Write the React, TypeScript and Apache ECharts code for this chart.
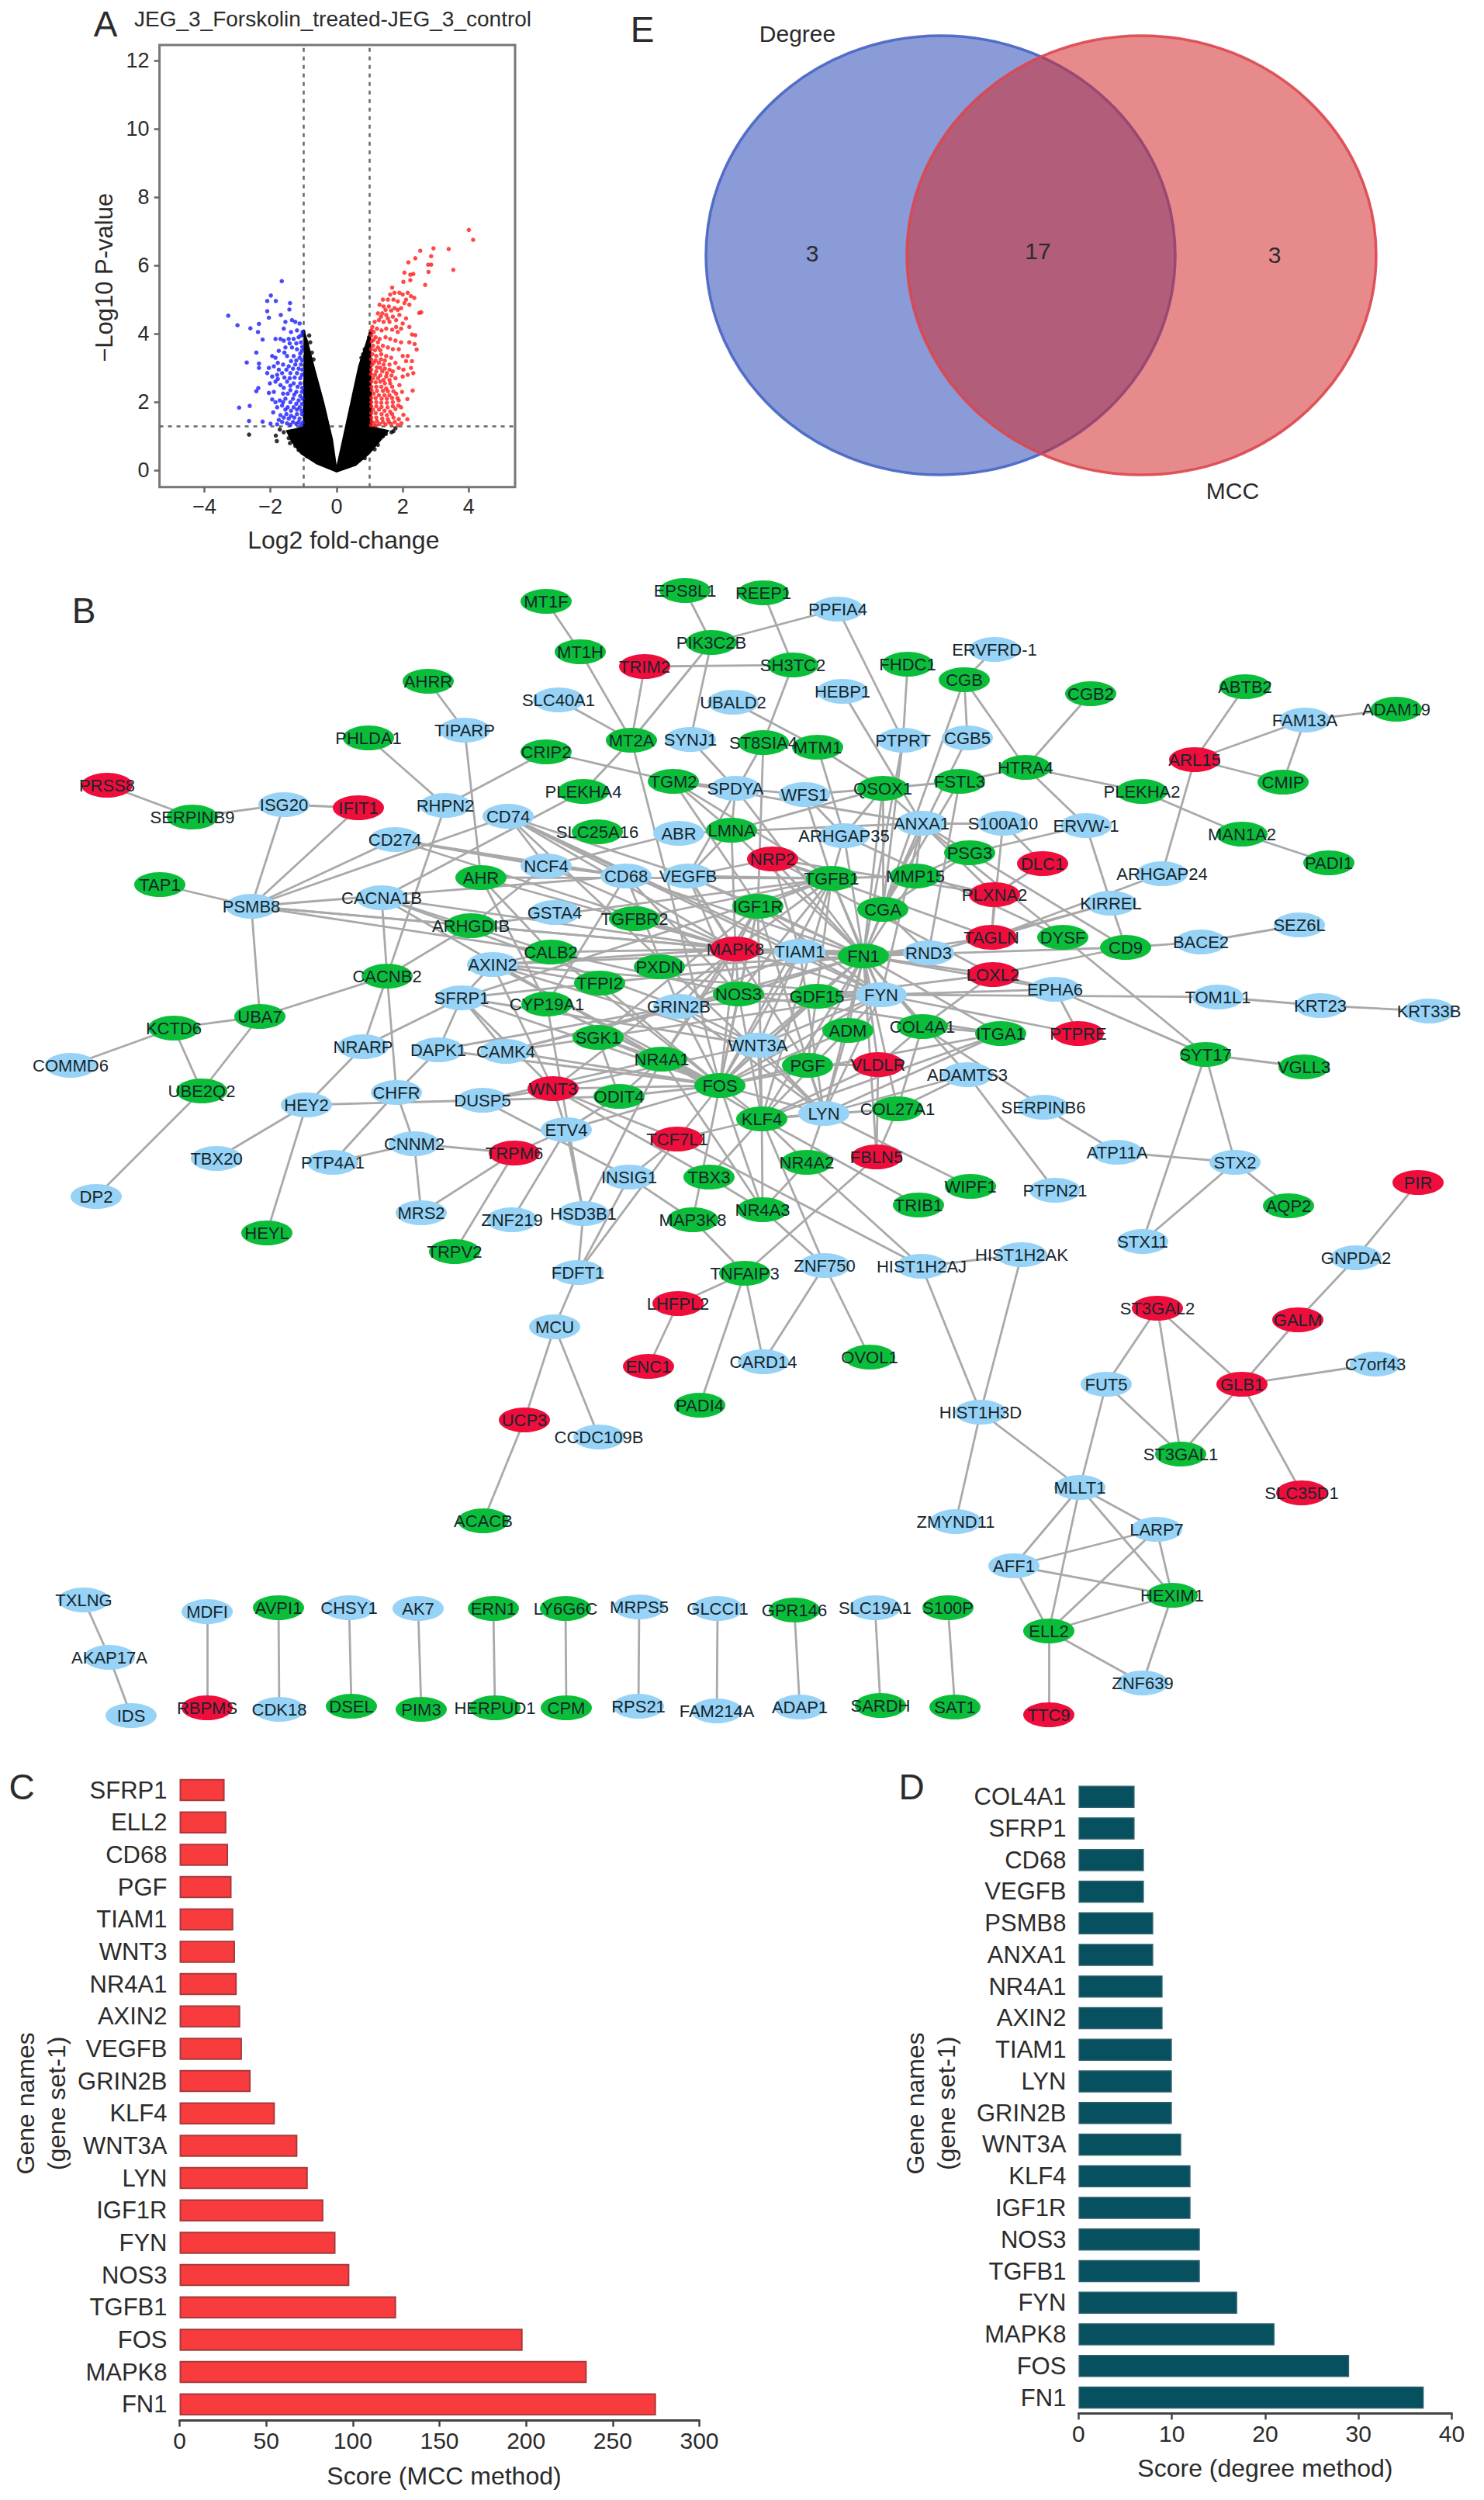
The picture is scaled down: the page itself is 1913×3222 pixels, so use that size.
import React, { useEffect, useRef } from "react";
import * as echarts from "echarts";

const FONT = '"Liberation Sans", Arial, sans-serif';

// ---------- Panel A: volcano plot ----------
const volcanoXTicks = [-4, -2, 0, 2, 4];
const volcanoYTicks = [0, 2, 4, 6, 8, 10, 12];
const blackEnvelope = [
  [0, 0.16], [-0.11, 0.91], [-0.37, 1.98], [-0.67, 3.05], [-0.87, 3.8], [-0.99, 4.15], [-1.02, 1.29], [-1.27, 1.23],
  [-1.54, 1.18], [-1.39, 0.86], [-1.09, 0.48], [-0.61, 0.18], [0, -0.06], [0.59, 0.14], [1.0, 0.48], [1.33, 0.86],
  [1.6, 1.18], [1.07, 1.29], [1.04, 4.12], [0.92, 3.86], [0.65, 3.05], [0.41, 1.98], [0.17, 0.91],
];
const blackPoints = [
  [-2.65, 1.05], [-1.84, 1.02], [-1.81, 0.86], [-1.41, 0.8], [-1.45, 0.95], [-1.6, 1.12], [-1.72, 1.2], [-1.25, 0.72],
  [-1.15, 0.6], [-0.9, 0.42], [1.66, 1.12], [1.49, 1.07], [1.25, 0.75], [1.4, 1.0], [1.72, 1.15], [1.78, 1.24],
  [1.15, 0.62], [0.85, 0.36], [-1.0, 3.95], [-0.95, 3.7], [-0.9, 3.5], [0.98, 3.9], [0.95, 3.65], [-0.83, 3.95],
  [-0.8, 3.75], [-0.75, 3.45], [-0.7, 3.25], [0.85, 3.55], [0.8, 3.4], [0.75, 3.3], [-1.0, 4.05], [1.02, 4.0],
];
const bluePoints = [
  [-3.28, 4.53], [-3.0, 4.25], [-2.61, 4.16], [-2.35, 4.29], [-2.38, 4.05], [-2.24, 3.83], [-2.43, 3.45], [-2.72, 3.16],
  [-2.35, 3.13], [-2.35, 3.0], [-2.95, 1.84], [-2.63, 1.89], [-2.65, 1.45], [-2.24, 1.43], [-2.0, 1.37], [-2.37, 2.41],
  [-2.43, 2.32], [-2.1, 4.96], [-1.99, 5.12], [-1.84, 4.96], [-1.66, 5.54], [-2.1, 4.66], [-2.05, 4.47], [-1.69, 4.55],
  [-1.41, 4.9], [-1.43, 4.71], [-1.55, 4.35], [-1.6, 4.15], [-1.35, 4.4], [-1.25, 4.35], [-1.12, 4.3], [-1.2, 4.1],
  [-1.38, 4.05], [-1.85, 3.85], [-1.7, 3.85], [-1.6, 3.8], [-1.45, 3.85], [-1.3, 3.85], [-1.15, 3.9], [-1.08, 3.75],
  [-1.95, 3.35], [-1.85, 3.3], [-1.75, 3.5], [-1.55, 3.6], [-1.35, 3.6], [-1.2, 3.55], [-1.05, 3.5], [-1.5, 3.35],
  [-1.3, 3.35], [-1.12, 3.3], [-2.05, 3.0], [-1.9, 3.05], [-1.78, 3.15], [-1.62, 3.1], [-1.45, 3.05], [-1.25, 3.1],
  [-1.08, 3.1], [-2.1, 2.85], [-1.95, 2.75], [-1.8, 2.8], [-1.65, 2.85], [-1.4, 2.85], [-1.2, 2.85], [-1.05, 2.8],
  [-2.02, 2.55], [-1.85, 2.6], [-1.7, 2.5], [-1.5, 2.6], [-1.3, 2.55], [-1.1, 2.55], [-2.05, 2.27], [-1.9, 2.3],
  [-1.62, 2.25], [-1.4, 2.35], [-1.22, 2.3], [-1.05, 2.3], [-1.95, 2.08], [-1.72, 2.05], [-1.55, 2.1], [-1.32, 2.1],
  [-1.15, 2.05], [-1.03, 2.1], [-1.8, 1.85], [-1.65, 1.9], [-1.48, 1.85], [-1.3, 1.85], [-1.12, 1.85], [-1.7, 1.62],
  [-1.52, 1.65], [-1.38, 1.6], [-1.2, 1.65], [-1.05, 1.65], [-1.65, 1.42], [-1.5, 1.38], [-1.32, 1.42], [-1.15, 1.42],
  [-1.03, 1.4], [-1.8, 1.35], [-1.03, 4.05], [-1.08, 3.95], [-1.22, 3.72], [-1.04, 3.62], [-1.42, 3.72], [-1.1, 3.42],
  [-1.22, 3.22], [-1.04, 3.22], [-1.38, 3.2], [-1.58, 3.45], [-1.04, 2.95], [-1.15, 2.98], [-1.32, 2.98], [-1.52, 2.95],
  [-1.75, 2.95], [-1.1, 2.7], [-1.27, 2.72], [-1.42, 2.7], [-1.58, 2.72], [-1.78, 2.68], [-1.04, 2.42], [-1.18, 2.45],
  [-1.4, 2.48], [-1.6, 2.42], [-1.1, 2.18], [-1.28, 2.22], [-1.48, 2.25], [-1.05, 1.95], [-1.22, 1.95], [-1.4, 2.0],
  [-1.62, 2.0], [-1.85, 2.0], [-1.06, 1.75], [-1.2, 1.78], [-1.38, 1.75], [-1.55, 1.78], [-1.28, 1.55], [-1.12, 1.52],
  [-1.45, 1.52], [-1.6, 1.55], [-1.22, 1.36], [-1.4, 1.34], [-1.08, 1.32], [-1.75, 1.48], [-1.92, 1.7],
];
const redPoints = [
  [4.0, 7.04], [4.13, 6.75], [3.39, 6.48], [3.53, 5.87], [2.93, 6.5], [2.53, 6.43], [2.38, 6.21], [2.17, 6.09],
  [2.86, 6.27], [2.86, 6.02], [2.77, 6.02], [2.78, 5.81], [2.68, 5.43], [2.05, 5.79], [2.32, 5.75], [2.23, 5.73],
  [2.23, 5.57], [2.02, 5.52], [2.56, 4.63], [2.5, 4.61], [2.38, 3.96], [2.36, 3.7], [2.42, 3.54], [2.3, 2.34],
  [2.02, 1.63], [2.14, 1.5], [2.14, 2.09], [1.68, 5.35], [1.75, 5.2], [1.62, 5.15], [1.9, 5.2], [2.0, 5.15],
  [2.15, 5.2], [2.25, 5.1], [2.35, 5.05], [1.55, 5.0], [1.72, 5.0], [1.85, 4.95], [2.05, 4.9], [2.2, 4.85],
  [1.3, 4.85], [1.42, 4.8], [1.58, 4.8], [1.75, 4.75], [1.95, 4.75], [1.25, 4.6], [1.38, 4.6], [1.5, 4.55],
  [1.7, 4.5], [1.9, 4.55], [2.1, 4.45], [1.15, 4.35], [1.28, 4.4], [1.42, 4.35], [1.6, 4.35], [2.0, 4.3],
  [2.2, 4.2], [1.08, 4.2], [1.22, 4.15], [1.36, 4.1], [1.5, 4.15], [1.68, 4.12], [1.85, 4.05], [2.28, 3.98],
  [1.05, 3.95], [1.18, 3.9], [1.3, 3.85], [1.48, 3.9], [1.62, 3.85], [1.78, 3.8], [1.95, 3.75], [2.2, 3.75],
  [1.1, 3.65], [1.25, 3.6], [1.4, 3.65], [1.55, 3.6], [1.7, 3.55], [1.88, 3.55], [1.08, 3.4], [1.2, 3.35],
  [1.35, 3.4], [1.5, 3.35], [1.65, 3.3], [2.0, 3.35], [2.15, 3.35], [1.12, 3.15], [1.28, 3.15], [1.42, 3.1],
  [1.6, 3.1], [1.78, 3.15], [2.1, 3.2], [2.28, 3.2], [1.05, 2.95], [1.2, 2.9], [1.38, 2.9], [1.52, 2.85],
  [1.7, 2.9], [1.88, 3.0], [2.02, 2.95], [2.25, 3.0], [2.32, 2.85], [1.1, 2.7], [1.25, 2.7], [1.42, 2.65],
  [1.6, 2.65], [1.78, 2.7], [2.0, 2.75], [2.15, 2.8], [1.05, 2.45], [1.2, 2.45], [1.35, 2.45], [1.5, 2.4],
  [1.68, 2.45], [1.9, 2.5], [1.12, 2.25], [1.28, 2.2], [1.45, 2.2], [1.6, 2.2], [1.8, 2.25], [1.98, 2.3],
  [1.05, 2.0], [1.2, 2.0], [1.35, 1.98], [1.52, 1.98], [1.7, 2.0], [1.88, 2.05], [1.1, 1.78], [1.28, 1.78],
  [1.45, 1.75], [1.62, 1.72], [1.78, 1.8], [1.95, 1.85], [1.05, 1.55], [1.2, 1.55], [1.38, 1.52], [1.55, 1.5],
  [1.72, 1.55], [1.88, 1.5], [1.12, 1.38], [1.3, 1.36], [1.48, 1.35], [1.65, 1.36], [1.85, 1.33], [1.05, 4.1],
  [1.12, 4.05], [1.06, 3.78], [1.12, 3.82], [1.25, 3.75], [1.04, 3.55], [1.16, 3.52], [1.32, 3.52], [1.05, 3.25],
  [1.18, 3.22], [1.34, 3.25], [1.46, 3.22], [1.06, 3.08], [1.22, 3.02], [1.32, 3.0], [1.46, 2.98], [1.6, 2.95],
  [1.04, 2.82], [1.16, 2.8], [1.32, 2.78], [1.5, 2.75], [1.66, 2.78], [1.05, 2.6], [1.18, 2.58], [1.32, 2.6],
  [1.46, 2.55], [1.62, 2.55], [1.06, 2.35], [1.22, 2.33], [1.4, 2.33], [1.55, 2.32], [1.72, 2.32], [1.05, 2.13],
  [1.18, 2.12], [1.36, 2.1], [1.52, 2.1], [1.68, 2.12], [1.84, 2.12], [1.05, 1.88], [1.2, 1.88], [1.36, 1.86],
  [1.54, 1.85], [1.7, 1.88], [1.87, 1.9], [1.05, 1.68], [1.18, 1.68], [1.36, 1.65], [1.52, 1.62], [1.68, 1.65],
  [1.06, 1.44], [1.22, 1.45], [1.4, 1.42], [1.58, 1.42], [1.76, 1.42], [1.04, 1.33], [1.2, 1.32], [1.96, 1.38],
  [1.34, 4.5], [1.55, 4.45], [1.8, 4.4], [1.48, 4.7], [1.65, 4.68], [1.85, 4.7], [1.8, 4.2], [1.95, 4.15],
  [1.4, 5.0], [2.1, 5.0],
];

// ---------- Panels C and D: ranked genes ----------
const mccGenes = ["SFRP1", "ELL2", "CD68", "PGF", "TIAM1", "WNT3", "NR4A1", "AXIN2", "VEGFB", "GRIN2B", "KLF4", "WNT3A", "LYN", "IGF1R", "FYN", "NOS3", "TGFB1", "FOS", "MAPK8", "FN1"];
const mccScores = [26, 27, 28, 30, 31, 32, 33, 35, 36, 41, 55, 68, 74, 83, 90, 98, 125, 198, 235, 275];
const degreeGenes = ["COL4A1", "SFRP1", "CD68", "VEGFB", "PSMB8", "ANXA1", "NR4A1", "AXIN2", "TIAM1", "LYN", "GRIN2B", "WNT3A", "KLF4", "IGF1R", "NOS3", "TGFB1", "FYN", "MAPK8", "FOS", "FN1"];
const degreeScores = [6, 6, 7, 7, 8, 8, 9, 9, 10, 10, 10, 11, 12, 12, 13, 13, 17, 21, 29, 37];

// ---------- Panel E: Venn counts ----------
const vennCounts = { degreeOnly: "3", shared: "17", mccOnly: "3" };

// ---------- Panel B: network (name, x, y on the page's own scale) ----------
type N = [string, number, number];
const redNodes: N[] = [
  ["PRSS8", 138, 1012], ["IFIT1", 462, 1041], ["TRIM2", 831, 859], ["ARL15", 1540, 979], ["NRP2", 996, 1107], ["DLC1", 1344, 1113],
  ["PLXNA2", 1282, 1153], ["TAGLN", 1278, 1208], ["LOXL2", 1280, 1256], ["PTPRE", 1390, 1332], ["MAPK8", 948, 1223], ["VLDLR", 1132, 1372],
  ["WNT3", 713, 1403], ["TCF7L1", 873, 1468], ["TRPM6", 663, 1486], ["FBLN5", 1130, 1491], ["LHFPL2", 874, 1680], ["ENC1", 836, 1761],
  ["UCP3", 676, 1830], ["PIR", 1828, 1524], ["ST3GAL2", 1492, 1686], ["GALM", 1673, 1701], ["GLB1", 1601, 1784], ["SLC35D1", 1678, 1924],
  ["RBPMS", 267, 2201], ["TTC9", 1352, 2210],
];
const greenNodes: N[] = [
  ["MT1F", 704, 775], ["EPS8L1", 883, 761], ["REEP1", 984, 764], ["MT1H", 748, 840], ["PIK3C2B", 917, 828], ["AHRR", 552, 878],
  ["SH3TC2", 1022, 857], ["FHDC1", 1170, 856], ["CGB", 1243, 876], ["CGB2", 1406, 894], ["ABTB2", 1605, 885], ["ADAM19", 1800, 914],
  ["PHLDA1", 475, 951], ["MT2A", 814, 954], ["CRIP2", 704, 969], ["ST8SIA4", 984, 957], ["MTM1", 1054, 963], ["TGM2", 868, 1007],
  ["PLEKHA4", 752, 1020], ["SERPINB9", 248, 1053], ["SLC25A16", 770, 1072], ["LMNA", 943, 1070], ["QSOX1", 1138, 1016], ["FSTL3", 1237, 1007],
  ["HTRA4", 1322, 989], ["CMIP", 1654, 1008], ["PLEKHA2", 1472, 1020], ["MAN1A2", 1601, 1075], ["PADI1", 1713, 1112], ["TAP1", 206, 1140],
  ["AHR", 620, 1131], ["TGFBR2", 818, 1184], ["ARHGDIB", 607, 1193], ["CALB2", 710, 1227], ["PXDN", 850, 1246], ["CACNB2", 499, 1258],
  ["TFPI2", 773, 1267], ["CYP19A1", 705, 1294], ["UBA7", 335, 1310], ["KCTD6", 224, 1325], ["SGK1", 771, 1337], ["NR4A1", 853, 1365],
  ["UBE2Q2", 260, 1406], ["ODIT4", 798, 1413], ["FOS", 928, 1399], ["KLF4", 982, 1442], ["NOS3", 952, 1281], ["IGF1R", 977, 1168],
  ["TGFB1", 1072, 1132], ["MMP15", 1180, 1129], ["PSG3", 1250, 1099], ["CGA", 1138, 1172], ["FN1", 1113, 1232], ["GDF15", 1053, 1284],
  ["ADM", 1093, 1328], ["COL4A1", 1189, 1323], ["ITGA1", 1290, 1332], ["PGF", 1041, 1373], ["COL27A1", 1157, 1429], ["NR4A2", 1040, 1498],
  ["WIPF1", 1251, 1529], ["TRIB1", 1184, 1553], ["NR4A3", 983, 1559], ["TBX3", 914, 1517], ["MAP3K8", 893, 1572], ["TNFAIP3", 960, 1641],
  ["PADI4", 902, 1811], ["OVOL1", 1121, 1749], ["DYSF", 1370, 1208], ["CD9", 1451, 1221], ["SYT17", 1554, 1359], ["VGLL3", 1681, 1375],
  ["AQP2", 1661, 1554], ["HEYL", 344, 1589], ["TRPV2", 586, 1613], ["ACACB", 623, 1960], ["AVPI1", 359, 2072], ["DSEL", 453, 2199],
  ["PIM3", 543, 2203], ["ERN1", 636, 2073], ["HERPUD1", 638, 2201], ["CPM", 730, 2201], ["LY6G6C", 729, 2073], ["GPR146", 1024, 2075],
  ["S100P", 1222, 2072], ["SARDH", 1135, 2198], ["SAT1", 1231, 2200], ["ELL2", 1352, 2102], ["HEXIM1", 1511, 2056], ["ST3GAL1", 1522, 1874],
];
const blueNodes: N[] = [
  ["PPFIA4", 1080, 785], ["ERVFRD-1", 1282, 837], ["HEBP1", 1086, 891], ["SLC40A1", 720, 902], ["UBALD2", 945, 905], ["TIPARP", 599, 941],
  ["SYNJ1", 890, 953], ["FAM13A", 1682, 928], ["PTPRT", 1164, 954], ["CGB5", 1247, 951], ["SPDYA", 948, 1016], ["WFS1", 1037, 1024],
  ["ISG20", 366, 1037], ["RHPN2", 574, 1038], ["CD74", 655, 1052], ["CD274", 509, 1082], ["ABR", 875, 1074], ["ANXA1", 1188, 1061],
  ["S100A10", 1293, 1061], ["ERVW-1", 1400, 1064], ["ARHGAP35", 1088, 1077], ["NCF4", 704, 1116], ["CD68", 807, 1129], ["VEGFB", 887, 1129],
  ["ARHGAP24", 1498, 1126], ["PSMB8", 324, 1168], ["CACNA1B", 492, 1157], ["GSTA4", 715, 1176], ["KIRREL", 1432, 1164], ["SEZ6L", 1675, 1192],
  ["BACE2", 1548, 1214], ["TIAM1", 1031, 1226], ["RND3", 1197, 1228], ["AXIN2", 635, 1243], ["EPHA6", 1360, 1275], ["FYN", 1136, 1282],
  ["TOM1L1", 1570, 1285], ["SFRP1", 595, 1286], ["GRIN2B", 875, 1297], ["KRT23", 1702, 1296], ["KRT33B", 1842, 1303], ["NRARP", 468, 1349],
  ["DAPK1", 565, 1353], ["CAMK4", 652, 1355], ["WNT3A", 977, 1347], ["COMMD6", 91, 1373], ["ADAMTS3", 1247, 1385], ["CHFR", 511, 1408],
  ["DUSP5", 622, 1418], ["HEY2", 395, 1424], ["SERPINB6", 1345, 1427], ["LYN", 1062, 1435], ["ETV4", 730, 1456], ["CNNM2", 534, 1474],
  ["ATP11A", 1440, 1485], ["TBX20", 279, 1493], ["PTP4A1", 429, 1498], ["STX2", 1592, 1498], ["INSIG1", 811, 1517], ["PTPN21", 1360, 1534],
  ["DP2", 124, 1542], ["MRS2", 543, 1563], ["HSD3B1", 752, 1564], ["ZNF219", 660, 1572], ["STX11", 1473, 1600], ["HIST1H2AK", 1317, 1617],
  ["GNPDA2", 1748, 1621], ["ZNF750", 1063, 1631], ["HIST1H2AJ", 1188, 1632], ["FDFT1", 745, 1640], ["MCU", 715, 1710], ["CARD14", 984, 1755],
  ["C7orf43", 1773, 1758], ["FUT5", 1426, 1784], ["HIST1H3D", 1264, 1820], ["CCDC109B", 772, 1852], ["MLLT1", 1392, 1917], ["ZMYND11", 1232, 1961],
  ["LARP7", 1491, 1971], ["AFF1", 1307, 2018], ["TXLNG", 108, 2062], ["MDFI", 267, 2077], ["CHSY1", 450, 2072], ["AK7", 539, 2073],
  ["MRPS5", 824, 2071], ["GLCCI1", 925, 2073], ["SLC19A1", 1128, 2072], ["AKAP17A", 141, 2136], ["ZNF639", 1473, 2169], ["ADAP1", 1031, 2200],
  ["IDS", 169, 2211], ["CDK18", 360, 2203], ["RPS21", 823, 2199], ["FAM214A", 924, 2205],
];
const outerEdges = [
  "MT1F MT1H", "MT1H MT2A", "EPS8L1 PIK3C2B", "TRIM2 MT2A", "TRIM2 SH3TC2", "PIK3C2B MT2A", "PIK3C2B SYNJ1", "PIK3C2B PPFIA4", "REEP1 SH3TC2",
  "AHRR TIPARP", "TIPARP AHR", "SLC40A1 MT2A", "PHLDA1 RHPN2", "CRIP2 RHPN2", "CRIP2 TGM2", "MT2A PLEKHA4", "PLEKHA4 CACNA1B", "SYNJ1 SPDYA",
  "PRSS8 SERPINB9", "SERPINB9 ISG20", "ISG20 IFIT1", "ISG20 PSMB8", "IFIT1 PSMB8", "PSMB8 CD274", "PSMB8 CD74", "TAP1 PSMB8", "PSMB8 UBA7",
  "PSMB8 ARHGDIB", "PSMB8 CALB2", "UBA7 CACNB2", "UBA7 KCTD6", "UBA7 UBE2Q2", "KCTD6 UBE2Q2", "KCTD6 COMMD6", "UBE2Q2 DP2", "RHPN2 CACNB2",
  "CACNA1B CACNB2", "CACNB2 ARHGDIB", "CACNB2 NRARP", "CACNB2 CHFR", "NRARP HEY2", "DAPK1 CHFR", "HEY2 DUSP5", "HEY2 TBX20", "HEY2 HEYL",
  "CHFR PTP4A1", "CHFR CNNM2", "CNNM2 PTP4A1", "CNNM2 TRPM6", "CNNM2 MRS2", "TRPM6 MRS2", "TRPM6 TRPV2", "TRPM6 ETV4", "ETV4 ZNF219",
  "ETV4 HSD3B1", "HSD3B1 FDFT1", "FDFT1 INSIG1", "FDFT1 TCF7L1", "FDFT1 MCU", "MCU UCP3", "MCU CCDC109B", "UCP3 ACACB", "TNFAIP3 LHFPL2",
  "LHFPL2 ENC1", "TNFAIP3 PADI4", "TNFAIP3 MAP3K8", "TNFAIP3 CARD14", "TNFAIP3 FBLN5", "ZNF750 CARD14", "ZNF750 OVOL1", "NR4A3 ZNF750",
  "HIST1H2AJ HIST1H2AK", "HIST1H2AJ HIST1H3D", "HIST1H2AK HIST1H3D", "HIST1H3D MLLT1", "HIST1H3D ZMYND11", "NR4A2 HIST1H2AJ", "TCF7L1 HIST1H2AJ",
  "LYN NR4A2", "LYN WIPF1", "KLF4 TRIB1", "NR4A2 NR4A3", "COL27A1 FBLN5", "VLDLR FBLN5", "COL27A1 ADAMTS3", "COL27A1 COL4A1", "ADAMTS3 PTPN21",
  "COL4A1 SERPINB6", "SERPINB6 ATP11A", "ATP11A STX2", "STX2 STX11", "STX2 AQP2", "STX2 SYT17", "STX11 SYT17", "SYT17 VGLL3", "EPHA6 SYT17",
  "DYSF SYT17", "TOM1L1 KRT23", "KRT23 KRT33B", "CD9 BACE2", "BACE2 SEZ6L", "KIRREL CD9", "KIRREL ERVW-1", "ARHGAP24 ARL15", "ARHGAP24 TAGLN",
  "ARL15 ABTB2", "ARL15 FAM13A", "ARL15 CMIP", "FAM13A ADAM19", "FAM13A CMIP", "PLEKHA2 HTRA4", "PLEKHA2 MAN1A2", "MAN1A2 PADI1", "HTRA4 FSTL3",
  "HTRA4 CGB", "HTRA4 CGB2", "HTRA4 ERVW-1", "CGB ERVFRD-1", "CGB CGB5", "CGB CGA", "CGB5 CGA", "FSTL3 QSOX1", "QSOX1 WFS1", "FHDC1 PTPRT",
  "PPFIA4 PTPRT", "HEBP1 ANXA1", "QSOX1 MTM1", "SH3TC2 ST8SIA4", "UBALD2 MTM1", "ANXA1 S100A10", "S100A10 DLC1", "S100A10 TAGLN", "DLC1 PLXNA2",
  "PSG3 ERVW-1", "ANXA1 CD9", "ANXA1 DYSF", "PLXNA2 TAGLN", "MDFI RBPMS", "AVPI1 CDK18", "CHSY1 DSEL", "AK7 PIM3", "ERN1 HERPUD1", "LY6G6C CPM",
  "MRPS5 RPS21", "GLCCI1 FAM214A", "GPR146 ADAP1", "SLC19A1 SARDH", "S100P SAT1", "TXLNG AKAP17A", "AKAP17A IDS", "MLLT1 AFF1", "MLLT1 ELL2",
  "MLLT1 LARP7", "MLLT1 HEXIM1", "FUT5 MLLT1", "AFF1 LARP7", "AFF1 HEXIM1", "AFF1 ELL2", "LARP7 ELL2", "LARP7 HEXIM1", "ELL2 HEXIM1", "ELL2 ZNF639",
  "ELL2 TTC9", "HEXIM1 ZNF639", "ST3GAL2 FUT5", "ST3GAL2 ST3GAL1", "ST3GAL2 GLB1", "FUT5 ST3GAL1", "GLB1 ST3GAL1", "GLB1 GALM", "GLB1 C7orf43",
  "GLB1 SLC35D1", "GALM GNPDA2", "GNPDA2 PIR", "FYN TOM1L1", "FYN PTPRE", "FYN EPHA6", "FN1 CD9", "FN1 LOXL2", "FN1 EPHA6", "LOXL2 CD9", "EPHA6 LOXL2",
];
const coreEdges = [
  "FN1 TGFB1", "FN1 IGF1R", "FN1 MAPK8", "FN1 FOS", "FN1 NOS3", "FN1 FYN", "FN1 TIAM1", "FN1 RND3", "FN1 CGA", "FN1 MMP15", "FN1 ANXA1", "FN1 QSOX1",
  "FN1 PTPRT", "FN1 ARHGAP35", "FN1 NRP2", "FN1 TAGLN", "FN1 COL4A1", "FN1 ITGA1", "FN1 GDF15", "FN1 ADM", "FN1 PGF", "FN1 VLDLR", "FN1 KLF4", "FN1 WNT3A",
  "FN1 CD68", "FN1 VEGFB", "FN1 PXDN", "FN1 LMNA", "FN1 SPDYA", "FN1 LYN", "FN1 FBLN5", "FN1 TFPI2", "FN1 GRIN2B", "FN1 COL27A1", "FN1 ADAMTS3",
  "FOS MAPK8", "FOS NOS3", "FOS GRIN2B", "FOS NR4A1", "FOS KLF4", "FOS WNT3A", "FOS ETV4", "FOS WNT3", "FOS ODIT4", "FOS TGFB1", "FOS IGF1R", "FOS SGK1",
  "FOS CALB2", "FOS TFPI2", "FOS AXIN2", "FOS TCF7L1", "FOS LYN", "FOS ITGA1", "FOS ADM", "FOS PGF", "FOS GDF15", "FOS FYN", "FOS TIAM1", "FOS DAPK1",
  "FOS CAMK4", "FOS SFRP1", "FOS MT2A", "FOS CYP19A1", "FOS NR4A3",
  "MAPK8 AXIN2", "MAPK8 CALB2", "MAPK8 TIAM1", "MAPK8 FYN", "MAPK8 ARHGDIB", "MAPK8 PSMB8", "MAPK8 CACNA1B", "MAPK8 TGFBR2", "MAPK8 AHR", "MAPK8 IGF1R",
  "MAPK8 TGFB1", "MAPK8 NOS3", "MAPK8 NR4A1", "MAPK8 GRIN2B", "MAPK8 WNT3", "MAPK8 CD74", "MAPK8 NCF4", "MAPK8 CD274", "MAPK8 LMNA", "MAPK8 VEGFB", "MAPK8 RND3",
  "FYN LYN", "FYN GRIN2B", "FYN TIAM1", "FYN KLF4", "FYN NOS3", "FYN TGFB1", "FYN AXIN2", "FYN CD74", "FYN ANXA1", "FYN CAMK4", "FYN WNT3A", "FYN IGF1R",
  "TGFB1 NRP2", "TGFB1 MMP15", "TGFB1 ARHGAP35", "TGFB1 IGF1R", "TGFB1 SFRP1", "TGFB1 TGFBR2", "TGFB1 VEGFB", "TGFB1 NOS3", "TGFB1 KLF4", "TGFB1 PGF", "TGFB1 WFS1", "TGFB1 TGM2",
  "NOS3 GRIN2B", "NOS3 IGF1R", "NOS3 VEGFB", "NOS3 KLF4", "NOS3 CALB2", "NOS3 CAMK4", "NOS3 CD68", "IGF1R KLF4", "IGF1R LYN", "IGF1R NR4A1", "IGF1R SGK1", "IGF1R TGM2", "IGF1R VEGFB",
  "KLF4 LYN", "KLF4 NR4A1", "KLF4 WNT3A", "KLF4 NR4A2", "KLF4 NR4A3", "KLF4 ZNF750", "KLF4 TBX3", "WNT3A SFRP1", "WNT3A AXIN2", "WNT3A WNT3", "WNT3A LYN", "WNT3A TIAM1", "WNT3A GRIN2B",
  "GRIN2B DAPK1", "GRIN2B CAMK4", "GRIN2B CD68", "GRIN2B LYN", "GRIN2B TIAM1", "LYN TIAM1", "LYN CD74", "LYN ADM", "LYN PGF", "TIAM1 AXIN2", "TIAM1 CD74", "TIAM1 NRP2", "TIAM1 RND3",
  "AXIN2 WNT3", "AXIN2 CALB2", "AXIN2 SFRP1", "AXIN2 TFPI2", "NR4A1 SGK1", "NR4A1 ODIT4", "NR4A1 NR4A3", "NR4A1 DUSP5", "NR4A1 HSD3B1", "NR4A1 CYP19A1",
  "ANXA1 QSOX1", "ANXA1 ABR", "ANXA1 TGM2", "ANXA1 PLXNA2", "CD68 NCF4", "CD68 CD74", "CD68 CD274", "CD68 CYP19A1", "VEGFB NRP2", "VEGFB PGF", "VEGFB CD74", "VEGFB LMNA",
  "SFRP1 NRARP", "SFRP1 DAPK1", "SFRP1 CAMK4", "SFRP1 TFPI2", "SFRP1 WNT3", "COL4A1 ITGA1", "COL4A1 LOXL2", "COL4A1 VLDLR", "PSMB8 CD68", "CD274 NCF4", "CD74 NCF4", "ABR NCF4",
  "NCF4 ARHGDIB", "AHR CALB2", "AHR CYP19A1", "AHR TGFB1", "CACNA1B CALB2", "CACNA1B NR4A1", "CACNA1B GRIN2B", "ARHGDIB TGFB1", "DUSP5 WNT3", "DUSP5 ODIT4", "DUSP5 INSIG1",
  "INSIG1 MAP3K8", "INSIG1 TCF7L1", "ETV4 WNT3", "ETV4 ODIT4", "WNT3 TBX3", "WNT3 TCF7L1", "SGK1 ODIT4", "HSD3B1 CYP19A1", "TCF7L1 KLF4", "NR4A1 FOS", "LMNA SPDYA", "LMNA TGM2",
  "SPDYA WFS1", "SPDYA TGM2", "ST8SIA4 VEGFB", "ST8SIA4 IGF1R", "MTM1 ARHGAP35", "QSOX1 ARHGAP35", "QSOX1 LMNA", "WFS1 ARHGAP35", "PTPRT CGA", "FSTL3 RND3", "FSTL3 CGA", "QSOX1 CGA",
  "MMP15 ANXA1", "MMP15 PLXNA2", "MMP15 PSG3", "CGA ANXA1", "CGA PSG3", "CGA RND3", "TAGLN KIRREL", "RND3 KIRREL", "TAGLN NRP2", "PLXNA2 NRP2", "DYSF ARHGAP35", "ITGA1 KLF4",
  "ITGA1 LYN", "ITGA1 NOS3", "ADAMTS3 LYN", "COL27A1 KLF4", "LOXL2 GDF15", "LOXL2 NRP2", "PTPRE EPHA6", "VLDLR PGF", "VLDLR KLF4", "TBX3 NR4A3", "MAP3K8 FOS",
];

const green = "#0bbe3a";
const blue = "#97d3f6";
const red = "#ef0d3c";
const ink = "#2b2b2b";
const nodeInk = "#16252c";

const toNode = (color: string) => (n: N) => ({
  name: n[0],
  value: [n[1], n[2]],
  itemStyle: { color },
});

function buildOption() {
  const nodes = [...greenNodes.map(toNode(green)), ...blueNodes.map(toNode(blue)), ...redNodes.map(toNode(red))];
  const names = new Set(nodes.map((n) => n.name));
  const seen = new Set<string>();
  const links = [...outerEdges, ...coreEdges]
    .map((e) => e.split(" "))
    .filter(([a, b]) => {
      const key = [a, b].sort().join("|");
      if (!names.has(a) || !names.has(b) || seen.has(key)) return false;
      seen.add(key);
      return true;
    })
    .map(([source, target]) => ({ source, target }));

  const text = (t: string, x: number, y: number, fontSize: number, extra: any = {}) => ({
    type: "text",
    x,
    y,
    silent: true,
    style: { text: t, fontFamily: FONT, fontSize, fill: ink, align: "center", verticalAlign: "middle", ...extra },
  });

  const barAxisLabel = { fontFamily: FONT, fontSize: 30, color: ink };
  const barX = (gridIndex: number, max: number, interval: number, name: string, nameGap: number, pad: number) => ({
    type: "value",
    gridIndex,
    min: 0,
    max,
    interval,
    splitLine: { show: false },
    axisLine: { show: true, lineStyle: { color: "#444", width: 3 } },
    axisTick: { show: true, length: 8, lineStyle: { color: "#444", width: 2.5 } },
    axisLabel: { ...barAxisLabel, margin: 11 },
    name,
    nameLocation: "middle",
    nameGap,
    nameTextStyle: { fontFamily: FONT, fontSize: 32, color: ink, padding: [0, 0, 0, pad] },
  });
  const barY = (gridIndex: number, data: string[], nameGap: number) => ({
    type: "category",
    gridIndex,
    data,
    inverse: true,
    axisLine: { show: false },
    axisTick: { show: false },
    axisLabel: { ...barAxisLabel, fontSize: 31, margin: 16 },
    name: "Gene names\n(gene set-1)",
    nameLocation: "middle",
    nameRotate: 90,
    nameGap,
    nameTextStyle: { fontFamily: FONT, fontSize: 32, lineHeight: 40, color: ink, padding: [0, 16, 0, 0] },
  });

  return {
    animation: false,
    backgroundColor: "#fff",
    grid: [
      { left: 205.6, top: 58, width: 458.4, height: 569.7, show: true, borderColor: "#777", borderWidth: 3, backgroundColor: "#fff", containLabel: false },
      { left: 0, top: 0, width: 1913, height: 3222, containLabel: false },
      { left: 231.5, top: 2286.2, width: 670, height: 833.4, containLabel: false },
      { left: 1390.4, top: 2295.3, width: 481, height: 815.1, containLabel: false },
    ],
    xAxis: [
      {
        type: "value",
        gridIndex: 0,
        min: -5.36,
        max: 5.4,
        splitLine: { show: false },
        axisLine: { show: false, onZero: false },
        axisTick: { show: true, length: 7, customValues: volcanoXTicks, lineStyle: { color: "#666", width: 2.5 } },
        axisLabel: {
          customValues: volcanoXTicks,
          fontFamily: FONT,
          fontSize: 27,
          color: ink,
          margin: 12,
          formatter: (v: number) => String(v).replace("-", "\u2212"),
        },
        name: "Log2 fold-change",
        nameLocation: "middle",
        nameGap: 52,
        nameTextStyle: { fontFamily: FONT, fontSize: 32, color: ink, padding: [0, 0, 0, 16] },
      },
      { type: "value", gridIndex: 1, min: 0, max: 1913, show: false, splitLine: { show: false } },
      barX(2, 300, 50, "Score (MCC method)", 55, 12),
      barX(3, 40, 10, "Score (degree method)", 55, 0),
    ],
    yAxis: [
      {
        type: "value",
        gridIndex: 0,
        min: -0.484,
        max: 12.45,
        splitLine: { show: false },
        axisLine: { show: false, onZero: false },
        axisTick: { show: true, length: 7, customValues: volcanoYTicks, lineStyle: { color: "#666", width: 2.5 } },
        axisLabel: { customValues: volcanoYTicks, fontFamily: FONT, fontSize: 27, color: ink, margin: 13 },
        name: "\u2212Log10 P-value",
        nameLocation: "middle",
        nameRotate: 90,
        nameGap: 56,
        nameTextStyle: { fontFamily: FONT, fontSize: 31, color: ink, padding: [0, 30, 0, 0] },
      },
      { type: "value", gridIndex: 1, min: 0, max: 3222, inverse: true, show: false, splitLine: { show: false } },
      barY(2, mccGenes, 139),
      barY(3, degreeGenes, 150),
    ],
    series: [
      {
        type: "scatter",
        xAxisIndex: 0,
        yAxisIndex: 0,
        data: [],
        silent: true,
        markLine: {
          silent: true,
          symbol: "none",
          z: 1,
          label: { show: false },
          lineStyle: { color: "#666", width: 2.5, type: [5, 6] },
          data: [{ xAxis: -1 }, { xAxis: 1 }, { yAxis: 1.301 }],
        },
      },
      {
        type: "custom",
        xAxisIndex: 0,
        yAxisIndex: 0,
        z: 3,
        silent: true,
        data: [[0, 0]],
        renderItem: (_p: any, api: any) => ({
          type: "polygon",
          shape: { points: blackEnvelope.map((c) => api.coord(c)) },
          style: { fill: "#000" },
        }),
      },
      { type: "scatter", xAxisIndex: 0, yAxisIndex: 0, z: 4, silent: true, symbolSize: 5.5, itemStyle: { color: "#000" }, data: blackPoints },
      { type: "scatter", xAxisIndex: 0, yAxisIndex: 0, z: 4, silent: true, symbolSize: 5.5, itemStyle: { color: "#1a1aff" }, data: bluePoints },
      { type: "scatter", xAxisIndex: 0, yAxisIndex: 0, z: 4, silent: true, symbolSize: 5.5, itemStyle: { color: "#ff1a1a" }, data: redPoints },
      {
        type: "graph",
        coordinateSystem: "cartesian2d",
        xAxisIndex: 1,
        yAxisIndex: 1,
        layout: "none",
        silent: true,
        symbol: "circle",
        symbolSize: [66, 32],
        data: nodes,
        links,
        label: { show: true, position: "inside", fontFamily: FONT, fontSize: 22, color: nodeInk },
        lineStyle: { color: "#a9a9a9", width: 2.8, opacity: 1, curveness: 0 },
        emphasis: { disabled: true },
      },
      {
        type: "bar",
        xAxisIndex: 2,
        yAxisIndex: 2,
        silent: true,
        barWidth: 28.5,
        data: mccScores,
        itemStyle: { color: "#f83c3e", borderColor: "#a8383a", borderWidth: 2 },
      },
      {
        type: "bar",
        xAxisIndex: 3,
        yAxisIndex: 3,
        silent: true,
        barWidth: 28.5,
        data: degreeScores,
        itemStyle: { color: "#07505f", borderColor: "#2d5f6b", borderWidth: 1.5 },
      },
    ],
    graphic: [
      text("A", 136, 31, 46),
      text("JEG_3_Forskolin_treated-JEG_3_control", 429, 24, 28),
      text("B", 108, 787, 46),
      text("C", 28, 2303, 46),
      text("D", 1175, 2303, 46),
      text("E", 828, 38, 46),
      { type: "ellipse", silent: true, shape: { cx: 1212.5, cy: 329, rx: 302.5, ry: 283 }, style: { fill: "rgba(21,55,177,0.5)", stroke: "rgba(70,100,195,0.9)", lineWidth: 3.5 } },
      { type: "ellipse", silent: true, shape: { cx: 1471.5, cy: 329, rx: 302.5, ry: 283 }, style: { fill: "rgba(211,42,46,0.55)", stroke: "rgba(220,70,78,0.9)", lineWidth: 3.5 } },
      text("Degree", 1028, 43, 30),
      text("MCC", 1589, 632, 30),
      text(vennCounts.degreeOnly, 1047, 326, 30),
      text(vennCounts.shared, 1338, 323, 30),
      text(vennCounts.mccOnly, 1643, 328, 30),
    ],
  };
}

export default function App() {
  const ref = useRef<HTMLDivElement>(null);
  useEffect(() => {
    document.body.style.margin = "0";
    const chart = echarts.init(ref.current as HTMLDivElement, undefined, { renderer: "svg" });
    chart.setOption(buildOption() as any);
    return () => chart.dispose();
  }, []);
  return <div ref={ref} style={{ width: 1913, height: 3222, display: "block" }} />;
}
